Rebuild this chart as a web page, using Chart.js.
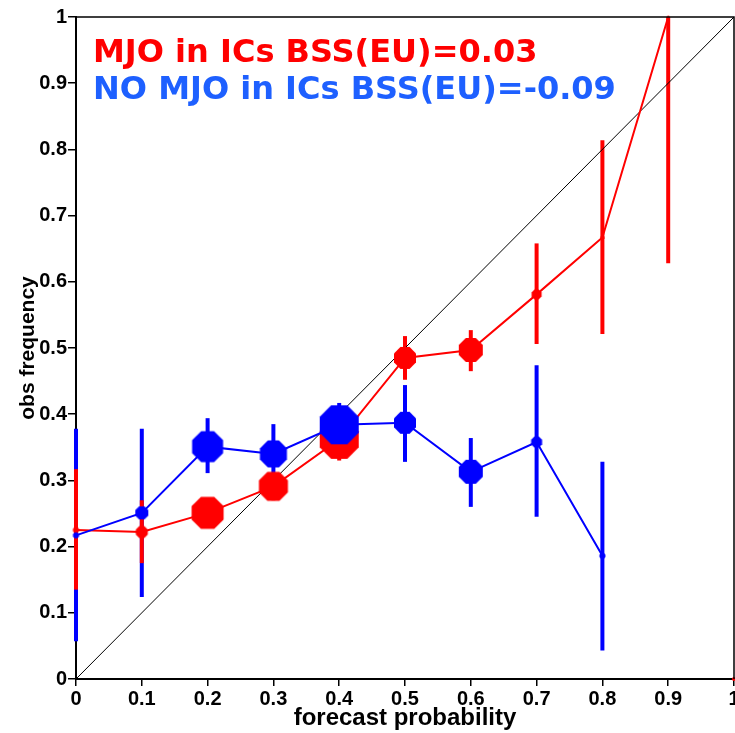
<!DOCTYPE html>
<html>
<head>
<meta charset="utf-8">
<script src="https://cdn.jsdelivr.net/npm/chart.js@4/dist/chart.umd.min.js"></script>
<style>
  html, body { margin: 0; padding: 0; background: #fff; overflow: hidden; }
  #wrap { width: 740px; height: 733px; }
</style>
</head>
<body>
<div id="wrap"><canvas id="reliability"></canvas></div>
<script>
// Reliability diagram data
const mjoBins = [0, 0.1, 0.2, 0.3, 0.4, 0.5, 0.6, 0.7, 0.8, 0.9];
const mjoFreq = [0.225, 0.222, 0.251, 0.291, 0.362, 0.485, 0.497, 0.581, 0.667, 1.0];
const mjoLow  = [0.135, 0.175, 0.235, 0.270, 0.330, 0.452, 0.465, 0.506, 0.521, 0.628];
const mjoHigh = [0.317, 0.270, 0.265, 0.310, 0.390, 0.518, 0.527, 0.658, 0.814, 1.0];
const mjoSize = [3, 6, 16, 14.5, 19.5, 11, 12, 5, 2, 1.2];

const noMjoBins = [0, 0.1, 0.2, 0.3, 0.4, 0.5, 0.6, 0.7, 0.8];
const noMjoFreq = [0.217, 0.251, 0.351, 0.340, 0.384, 0.387, 0.313, 0.358, 0.186];
const noMjoLow  = [0.057, 0.124, 0.311, 0.310, 0.350, 0.328, 0.260, 0.245, 0.043];
const noMjoHigh = [0.378, 0.378, 0.394, 0.385, 0.417, 0.444, 0.364, 0.474, 0.328];
const noMjoSize = [3, 6.5, 15.5, 13.5, 19.5, 11, 12, 5.5, 3];

// last bin of the MJO set (no line drawn to it)
const mjoEdgeBin = [1];
const mjoEdgeFreq = [0];

const xTicks = [0, 0.1, 0.2, 0.3, 0.4, 0.5, 0.6, 0.7, 0.8, 0.9, 1];
const yTicks = [0, 0.1, 0.2, 0.3, 0.4, 0.5, 0.6, 0.7, 0.8, 0.9, 1];

const titleLines = [
    { text: 'MJO in ICs BSS(EU)=0.03', color: '#ff0000' },
    { text: 'NO MJO in ICs BSS(EU)=-0.09', color: 'rgb(30,96,255)' }
];

const RED = '#ff0000';
const BLUE = '#0000ff';

// octagon marker as an image, flat top/bottom
function octagon(r, color) {
    const R = r / Math.cos(Math.PI / 8);
    const size = Math.ceil(2 * R + 2);
    const c = document.createElement('canvas');
    c.width = size;
    c.height = size;
    const g = c.getContext('2d');
    g.fillStyle = color;
    g.beginPath();
    for (let k = 0; k < 8; k++) {
        const a = Math.PI / 8 + k * Math.PI / 4;
        const px = size / 2 + R * Math.cos(a);
        const py = size / 2 + R * Math.sin(a);
        if (k === 0) g.moveTo(px, py); else g.lineTo(px, py);
    }
    g.closePath();
    g.fill();
    return c;
}

function toPoints(xs, ys) {
    return xs.map((x, i) => ({ x: x, y: ys[i] }));
}

// vertical error bars, drawn under the lines
const errorBars = {
    id: 'errorBars',
    beforeDatasetsDraw(chart) {
        const { ctx, scales: { x, y } } = chart;
        const sets = [
            { bins: noMjoBins, lo: noMjoLow, hi: noMjoHigh, color: BLUE },
            { bins: mjoBins, lo: mjoLow, hi: mjoHigh, color: RED }
        ];
        ctx.save();
        ctx.lineWidth = 4;
        ctx.lineCap = 'butt';
        sets.forEach(s => {
            ctx.strokeStyle = s.color;
            s.bins.forEach((b, i) => {
                const px = x.getPixelForValue(b);
                ctx.beginPath();
                ctx.moveTo(px, y.getPixelForValue(s.lo[i]));
                ctx.lineTo(px, y.getPixelForValue(s.hi[i]));
                ctx.stroke();
            });
        });
        ctx.restore();
    }
};

// box around the plot and the two score lines
const frameAndText = {
    id: 'frameAndText',
    afterDatasetsDraw(chart) {
        const { ctx, chartArea: a } = chart;
        ctx.save();
        ctx.strokeStyle = '#000';
        ctx.lineWidth = 1.5;
        ctx.beginPath();
        ctx.moveTo(a.left, a.top);
        ctx.lineTo(a.right, a.top);
        ctx.lineTo(a.right, a.bottom);
        ctx.stroke();

        ctx.font = 'bold 32px "DejaVu Sans", Verdana, sans-serif';
        ctx.textBaseline = 'alphabetic';
        ctx.textAlign = 'left';
        titleLines.forEach((t, i) => {
            ctx.fillStyle = t.color;
            ctx.fillText(t.text, 93, 62 + i * 37);
        });
        ctx.restore();
    }
};

const ctx = document.getElementById('reliability').getContext('2d');

new Chart(ctx, {
    type: 'scatter',
    data: {
        datasets: [
            {
                label: 'perfect',
                data: [{ x: 0, y: 0 }, { x: 1, y: 1 }],
                showLine: true,
                borderColor: '#000',
                borderWidth: 1,
                pointRadius: 0,
                order: 4
            },
            {
                label: 'MJO in ICs',
                data: toPoints(mjoBins, mjoFreq),
                showLine: true,
                borderColor: RED,
                borderWidth: 2,
                pointStyle: mjoSize.map(r => octagon(r, RED)),
                pointRadius: mjoSize,
                clip: false,
                order: 3
            },
            {
                label: 'MJO edge',
                data: toPoints(mjoEdgeBin, mjoEdgeFreq),
                showLine: false,
                pointStyle: 'circle',
                backgroundColor: RED,
                borderWidth: 0,
                pointRadius: 2,
                clip: false,
                order: 2
            },
            {
                label: 'NO MJO in ICs',
                data: toPoints(noMjoBins, noMjoFreq),
                showLine: true,
                borderColor: BLUE,
                borderWidth: 2,
                pointStyle: noMjoSize.map(r => octagon(r, BLUE)),
                pointRadius: noMjoSize,
                clip: false,
                order: 1
            }
        ]
    },
    options: {
        responsive: true,
        maintainAspectRatio: false,
        animation: false,
        events: [],
        layout: { padding: { top: 17, right: 2, left: 0, bottom: 0 } },
        plugins: {
            legend: { display: false },
            tooltip: { enabled: false }
        },
        scales: {
            x: {
                type: 'linear',
                min: 0,
                max: 1,
                afterBuildTicks: s => { s.ticks = xTicks.map(v => ({ value: v })); },
                afterFit: s => { s.height = 54; s.paddingLeft = 0; s.paddingRight = 0; },
                grid: { display: true, drawOnChartArea: false, drawTicks: true, tickLength: 7, color: '#000', lineWidth: 1.5 },
                border: { display: true, color: '#000', width: 2 },
                ticks: {
                    color: '#000',
                    padding: 1,
                    maxRotation: 0,
                    autoSkip: false,
                    font: { family: '"Liberation Sans", Arial, sans-serif', size: 20, weight: 'bold' },
                    callback: v => String(v)
                },
                title: {
                    display: true,
                    text: 'forecast probability',
                    color: '#000',
                    padding: { top: 1, bottom: 0 },
                    font: { family: '"Liberation Sans", Arial, sans-serif', size: 24, weight: 'bold', lineHeight: 1.2 }
                }
            },
            y: {
                type: 'linear',
                min: 0,
                max: 1,
                afterBuildTicks: s => { s.ticks = yTicks.map(v => ({ value: v })); },
                afterFit: s => { s.width = 76; s.paddingTop = 0; s.paddingBottom = 0; },
                grid: { display: true, drawOnChartArea: false, drawTicks: true, tickLength: 8, color: '#000', lineWidth: 1.5 },
                border: { display: true, color: '#000', width: 2 },
                ticks: {
                    color: '#000',
                    padding: 1,
                    autoSkip: false,
                    font: { family: '"Liberation Sans", Arial, sans-serif', size: 20, weight: 'bold' },
                    callback: v => String(v)
                },
                title: {
                    display: true,
                    text: 'obs frequency',
                    color: '#000',
                    padding: { top: 16, bottom: 0 },
                    font: { family: '"Liberation Sans", Arial, sans-serif', size: 21, weight: 'bold', lineHeight: 1.2 }
                }
            }
        }
    },
    plugins: [errorBars, frameAndText]
});
</script>
</body>
</html>
